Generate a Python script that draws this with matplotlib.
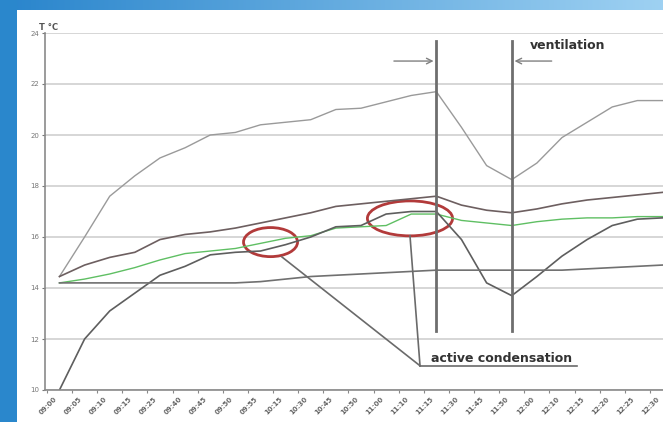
import numpy as np
import matplotlib.pyplot as plt
import matplotlib.transforms as mtransforms
from matplotlib.patches import Ellipse, Rectangle

times = ["09:00", "09:05", "09:10", "09:15", "09:25", "09:40", "09:45", "09:50",
         "09:55", "10:15", "10:30", "10:45", "10:50", "11:00", "11:10", "11:15",
         "11:30", "11:45", "11:50", "12:00", "12:10", "12:15", "12:20", "12:25",
         "12:30"]

t_max = [14.45, 16.0, 17.6, 18.4, 19.1, 19.5, 20.0, 20.1, 20.4, 20.5, 20.6, 21.0,
         21.05, 21.3, 21.55, 21.7, 20.3, 18.8, 18.25, 18.9, 19.9, 20.5, 21.1,
         21.35, 21.35]
t_upper = [14.45, 14.9, 15.2, 15.4, 15.9, 16.1, 16.2, 16.35, 16.55, 16.75, 16.95,
           17.2, 17.3, 17.4, 17.5, 17.6, 17.25, 17.05, 16.95, 17.1, 17.3, 17.45,
           17.55, 17.65, 17.75]
t_mean = [14.2, 14.35, 14.55, 14.8, 15.1, 15.35, 15.45, 15.55, 15.75, 15.95, 16.05,
          16.35, 16.4, 16.45, 16.9, 16.9, 16.65, 16.55, 16.45, 16.6, 16.7, 16.75,
          16.75, 16.8, 16.8]
t_lower = [10.0, 12.0, 13.1, 13.8, 14.5, 14.85, 15.3, 15.4, 15.45, 15.7, 16.0, 16.4,
           16.45, 16.9, 17.0, 17.0, 15.9, 14.2, 13.7, 14.45, 15.25, 15.9, 16.45,
           16.7, 16.75]
t_min = [14.2, 14.2, 14.2, 14.2, 14.2, 14.2, 14.2, 14.2, 14.25, 14.35, 14.45, 14.5,
         14.55, 14.6, 14.65, 14.7, 14.7, 14.7, 14.7, 14.7, 14.7, 14.75, 14.8, 14.85,
         14.9]

vent_start, vent_end = 15, 18
cond_spots = [(8.4, 15.8, 2.15, 1.14), (13.95, 16.73, 3.39, 1.37)]

fig = plt.figure(figsize=(6.63, 4.22), dpi=100)

# slide background: blue gradient band on top, darker blue on the left
bg = fig.add_axes([0, 0, 1, 1], zorder=-20)
grad = np.linspace(0, 1, 256)
blue_a = np.array([0.16, 0.52, 0.80])
blue_b = np.array([0.62, 0.82, 0.95])
top_band = (blue_a[None, :] * (1 - grad[:, None]) + blue_b[None, :] * grad[:, None])[None, :, :]
bg.imshow(top_band, extent=[0, 1, 0, 1], aspect="auto")
bg.add_patch(Rectangle((0, 0), 17 / 663, 1, facecolor="#2a87cc", edgecolor="none"))
bg.add_patch(Rectangle((17 / 663, 0), 1, 412 / 422, facecolor="white", edgecolor="none"))
bg.set_xlim(0, 1)
bg.set_ylim(0, 1)
bg.axis("off")

ax = fig.add_axes([45 / 663, 32 / 422, 618 / 663, 357 / 422])
ax.set_facecolor("none")
x = list(range(len(times)))

ax.plot(x, t_max, color="#9a9a9a", lw=1.0)
ax.plot(x, t_upper, color="#6d5f60", lw=1.2)
ax.plot(x, t_mean, color="#5fbf63", lw=1.0)
ax.plot(x, t_lower, color="#5e5e5e", lw=1.2)
ax.plot(x, t_min, color="#707070", lw=1.2)

ax.set_yticks(range(10, 25, 2))
ax.tick_params(axis="y", labelsize=5, colors="#777777", length=2, pad=2)
ax.grid(axis="y", color="#d6d6d6", lw=1.4)
ax.set_axisbelow(True)

ax.set_xticks([i - 0.5 for i in x] + [24.5])
ax.set_xticklabels([])
ax.set_xticks(x, minor=True)
ax.set_xticklabels(times, minor=True, rotation=45, ha="right", rotation_mode="anchor",
                   fontsize=5, color="#666666", fontweight="bold")
ax.tick_params(axis="x", which="major", length=2, colors="#888888")
ax.tick_params(axis="x", which="minor", length=0, pad=4)
shift = mtransforms.ScaledTranslation(-6 / 100, 0, fig.dpi_scale_trans)
for lab in ax.get_xticklabels(minor=True):
    lab.set_transform(lab.get_transform() + shift)
ax.set_xlim(-0.576, 24.02)
ax.set_ylim(10, 24)

for s in ["top", "right"]:
    ax.spines[s].set_visible(False)
for s in ["left", "bottom"]:
    ax.spines[s].set_color("#8a8a8a")
    ax.spines[s].set_linewidth(1.2)

ax.text(-0.8, 24.05, "T °C", fontsize=6, color="#555555", fontweight="bold",
        ha="left", va="bottom")

# ventilation markers
for xv in (vent_start, vent_end):
    ax.plot([xv, xv], [12.3, 23.7], color="#6e6e6e", lw=2.0)
ax.annotate("", xy=(vent_start, 22.9), xytext=(13.2, 22.9),
            arrowprops=dict(arrowstyle="->", color="#808080", lw=1.0))
ax.annotate("", xy=(vent_end, 22.9), xytext=(19.7, 22.9),
            arrowprops=dict(arrowstyle="->", color="#808080", lw=1.0))
ax.text(18.7, 23.5, "ventilation", fontsize=9, fontweight="bold", color="#333333",
        ha="left", va="center")

# active condensation callout
for cx, cy, w, h in cond_spots:
    ax.add_patch(Ellipse((cx, cy), w, h, fill=False, edgecolor="#b23a3a", lw=2.0))
ax.plot([8.85, 14.35], [15.22, 10.95], color="#6a6a6a", lw=1.2)
ax.plot([13.95, 14.35], [16.05, 10.95], color="#6a6a6a", lw=1.2)
ax.plot([14.35, 20.6], [10.95, 10.95], color="#6a6a6a", lw=1.2)
ax.text(14.8, 11.25, "active condensation", fontsize=9, fontweight="bold",
        color="#333333", ha="left", va="center")

fig.savefig("out.png", dpi=100)
